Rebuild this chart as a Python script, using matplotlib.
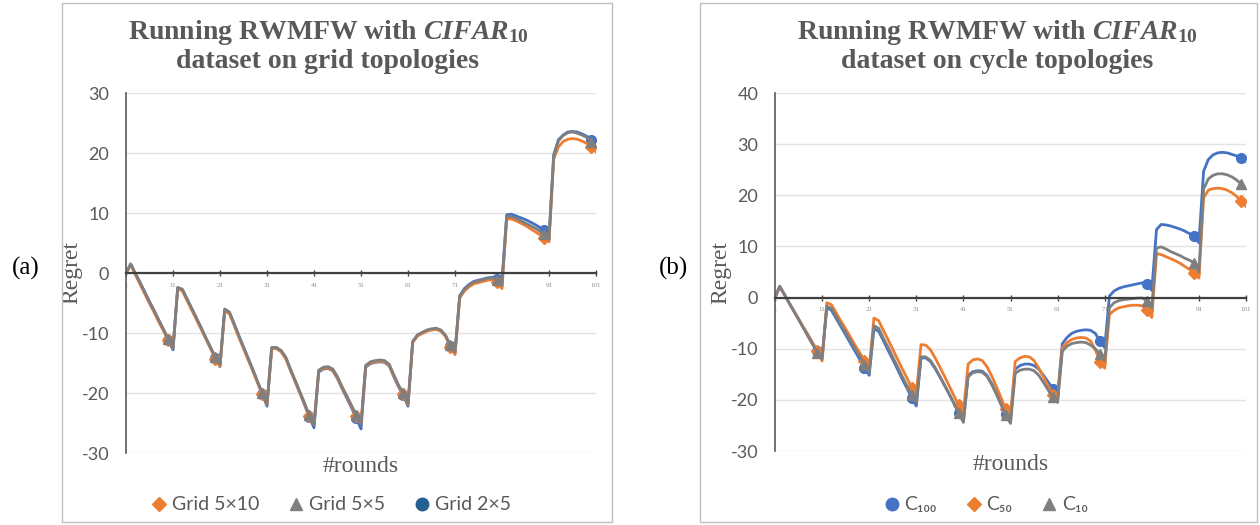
import matplotlib
matplotlib.use("Agg")
import matplotlib.pyplot as plt
from matplotlib.lines import Line2D
from matplotlib.patches import Rectangle

plt.rcParams['mathtext.fontset'] = 'custom'
plt.rcParams['mathtext.rm'] = 'Liberation Serif:bold'
plt.rcParams['mathtext.it'] = 'Liberation Serif:italic:bold'
plt.rcParams['axes.unicode_minus'] = False

rounds = list(range(1, 102))
x_ticks = list(range(1, 102, 10))

# (a) grid topologies
grid_5x10 = [0, 1.4, -0.3, -1.9, -3.5, -5.1, -6.6, -8.2, -9.7, -11.2, -12.4,
             -2.6, -3.0, -4.6, -6.2, -7.8, -9.4, -11.0, -12.6, -14.3, -15.5,
             -6.3, -6.8, -8.7, -10.7, -12.6, -14.5, -16.4, -18.3, -20.2, -21.9,
             -12.6, -12.6, -13.1, -14.3, -16.2, -18.1, -20.0, -21.9, -23.9, -25.2,
             -16.3, -15.9, -15.8, -16.2, -17.5, -19.2, -20.7, -22.3, -23.9, -25.0,
             -15.5, -15.0, -14.8, -14.7, -14.8, -15.4, -17.2, -18.9, -20.2, -21.9,
             -11.6, -10.5, -10.1, -9.7, -9.5, -9.4, -9.7, -10.6, -12.3, -13.6,
             -4.2, -3.0, -2.3, -1.8, -1.6, -1.4, -1.2, -1.1, -1.5, -2.6,
             9.0, 9.0, 8.7, 8.3, 7.9, 7.4, 6.9, 6.4, 5.8, 5.2,
             19.0, 21.0, 21.9, 22.3, 22.4, 22.3, 22.0, 21.6, 21.0, 20.2]
grid_5x5 = [0, 1.5, -0.1, -1.6, -3.2, -4.8, -6.3, -7.9, -9.4, -11.0, -12.6,
            -2.4, -2.7, -4.3, -5.9, -7.5, -9.1, -10.8, -12.4, -14.0, -15.2,
            -6.0, -6.5, -8.4, -10.4, -12.3, -14.2, -16.1, -18.1, -20.0, -21.8,
            -12.4, -12.4, -12.9, -14.0, -16.0, -17.9, -19.8, -21.7, -23.7, -25.4,
            -16.2, -15.7, -15.6, -16.0, -17.3, -19.0, -20.5, -22.1, -23.7, -25.2,
            -15.4, -14.8, -14.6, -14.5, -14.6, -15.2, -17.0, -18.7, -20.0, -21.7,
            -11.4, -10.3, -9.9, -9.5, -9.3, -9.2, -9.5, -10.4, -12.0, -13.2,
            -3.9, -2.7, -2.0, -1.5, -1.3, -1.1, -0.9, -0.8, -1.1, -1.6,
            9.4, 9.4, 9.1, 8.7, 8.3, 7.9, 7.5, 7.0, 6.5, 5.6,
            19.5, 22.0, 22.9, 23.4, 23.5, 23.3, 23.0, 22.6, 21.9, 21.0]
grid_2x5 = [0, 1.5, -0.1, -1.6, -3.2, -4.8, -6.3, -7.9, -9.5, -11.1, -12.8,
            -2.5, -2.8, -4.4, -6.0, -7.6, -9.2, -10.9, -12.5, -14.1, -15.6,
            -6.1, -6.6, -8.5, -10.5, -12.4, -14.3, -16.2, -18.2, -20.2, -22.2,
            -12.6, -12.6, -13.1, -14.2, -16.2, -18.1, -20.0, -22.0, -24.0, -25.8,
            -16.5, -16.0, -15.9, -16.3, -17.6, -19.3, -20.9, -22.5, -24.2, -26.0,
            -15.7, -15.1, -14.9, -14.8, -14.9, -15.5, -17.3, -19.0, -20.4, -22.2,
            -11.5, -10.4, -10.0, -9.6, -9.4, -9.3, -9.6, -10.5, -12.2, -13.4,
            -3.8, -2.6, -1.9, -1.4, -1.2, -1.0, -0.8, -0.7, -1.0, -1.3,
            9.7, 9.8, 9.5, 9.2, 8.9, 8.5, 8.1, 7.6, 7.1, 6.0,
            19.7, 22.2, 23.0, 23.5, 23.6, 23.5, 23.2, 22.8, 22.2, 21.6]

# (b) cycle topologies
c100 = [0, 2.2, 0.6, -1.0, -2.6, -4.2, -5.8, -7.3, -8.9, -10.4, -11.5,
        -2.0, -2.5, -4.1, -5.7, -7.3, -8.9, -10.5, -12.1, -13.7, -15.2,
        -6.1, -6.6, -8.4, -10.3, -12.1, -14.0, -15.9, -17.7, -19.6, -21.2,
        -11.8, -11.8, -12.5, -13.9, -15.5, -17.2, -18.9, -20.7, -22.6, -24.2,
        -15.2, -14.5, -14.3, -14.4, -15.2, -16.8, -18.6, -20.6, -22.7, -24.0,
        -14.0, -13.3, -13.0, -13.0, -13.3, -14.0, -15.2, -16.5, -17.8, -19.0,
        -9.0, -7.8, -7.0, -6.6, -6.4, -6.3, -6.4, -7.0, -8.5, -9.8,
        0.3, 1.3, 1.8, 2.1, 2.3, 2.5, 2.7, 2.9, 2.6, 1.4,
        13.3, 14.3, 14.2, 14.0, 13.7, 13.4, 13.0, 12.5, 12.0, 10.7,
        24.7, 27.0, 27.9, 28.3, 28.4, 28.3, 28.0, 27.7, 27.3, 26.6]
c50 = [0, 2.1, 0.6, -1.0, -2.6, -4.2, -5.8, -7.3, -8.9, -10.5, -12.4,
       -1.0, -1.4, -3.0, -4.6, -6.1, -7.7, -9.3, -10.8, -12.4, -14.0,
       -4.0, -4.5, -6.4, -8.2, -10.1, -12.0, -13.9, -15.7, -17.6, -18.8,
       -9.2, -9.3, -10.2, -11.8, -13.6, -15.4, -17.3, -19.2, -21.1, -22.5,
       -13.0, -12.2, -12.0, -12.3, -13.5, -15.3, -17.4, -19.6, -21.8, -23.0,
       -12.5, -11.8, -11.5, -11.6, -12.3, -13.8, -15.5, -17.3, -19.0, -20.0,
       -9.8, -8.8, -8.2, -7.9, -7.8, -7.9, -8.5, -10.2, -12.5, -13.8,
       -3.3, -2.5, -2.0, -1.8, -1.6, -1.5, -1.5, -1.6, -2.5, -3.9,
       8.6, 8.4, 8.0, 7.6, 7.2, 6.7, 6.1, 5.5, 4.8, 3.8,
       19.5, 21.0, 21.3, 21.4, 21.3, 21.0, 20.5, 19.8, 18.8, 17.8]
c10 = [0, 2.2, 0.6, -1.1, -2.7, -4.3, -5.9, -7.6, -9.2, -10.8, -12.0,
       -1.7, -2.1, -3.7, -5.3, -6.8, -8.4, -10.0, -11.5, -13.1, -14.6,
       -5.5, -6.0, -7.9, -9.7, -11.6, -13.5, -15.4, -17.2, -19.1, -20.5,
       -11.6, -11.6, -12.3, -13.7, -15.4, -17.1, -18.9, -20.7, -22.5, -24.4,
       -15.5, -14.7, -14.5, -14.6, -15.4, -17.0, -18.9, -21.0, -23.0, -24.6,
       -14.8, -14.2, -14.0, -14.0, -14.3, -15.2, -16.6, -18.1, -19.5, -20.5,
       -10.5, -9.5, -9.0, -8.8, -8.7, -8.8, -9.3, -10.0, -11.0, -12.3,
       -2.0, -1.0, -0.6, -0.4, -0.3, -0.2, -0.1, -0.1, -0.7, -2.0,
       9.7, 9.9, 9.5, 9.0, 8.6, 8.2, 7.7, 7.3, 6.8, 5.0,
       21.2, 23.2, 23.9, 24.2, 24.2, 24.0, 23.6, 23.0, 22.2, 21.4]

ORANGE = '#ED7D31'
GRAY = '#7F7F7F'
BLUE = '#4472C4'
TEXT = '#595959'
SERIF = 'Liberation Serif'
SANS = ['Lato', 'DejaVu Sans']
MARKS = list(range(9, 101, 10))


def style_axes(ax, ymin, ymax, width_px, height_px):
    ax.set_xlim(1, 101)
    ax.set_ylim(ymin, ymax)
    ax.set_yticks(range(ymin, ymax + 1, 10))
    ax.set_xticks(x_ticks)
    ax.grid(axis='y', color='#e3e3e3', lw=1)
    ax.set_axisbelow(True)
    for s in ['top', 'right']:
        ax.spines[s].set_visible(False)
    ax.spines['bottom'].set_position(('data', 0))
    ax.spines['bottom'].set_color('#404040')
    ax.spines['bottom'].set_linewidth(1.6)
    ax.spines['left'].set_color('#595959')
    ax.spines['left'].set_linewidth(1.2)
    ax.tick_params(axis='x', direction='inout', length=4, width=1, color='#404040',
                   pad=5, labelsize=5, labelcolor='#8c8c8c')
    ax.tick_params(axis='y', length=0, labelsize=13, labelcolor=TEXT, pad=12)
    ax.set_xticklabels([str(t) for t in x_ticks], family=SERIF)
    for lab in ax.get_yticklabels():
        lab.set_family(SANS)
    ax.set_ylabel('Regret', family=SERIF, fontsize=17, color=TEXT)
    ax.yaxis.set_label_coords(-44 / width_px, 0.5)
    ax.text(0.5, -14 / height_px, '#rounds', transform=ax.transAxes, ha='center',
            va='center', family=SERIF, fontsize=17, color=TEXT)


def draw(ax, y, color, marker, ms):
    ax.plot(rounds, y, color=color, lw=2.0, marker=marker, markevery=MARKS,
            ms=ms, mec=color, mfc=color, solid_joinstyle='round')


fig = plt.figure(figsize=(12.6, 5.25), dpi=100)

# boxes around the two charts
fig.patches.append(Rectangle((62 / 1260, 3 / 525), 550 / 1260, 519 / 525,
                             transform=fig.transFigure, fill=False,
                             ec='#bfbfbf', lw=1.0))
fig.patches.append(Rectangle((700 / 1260, 3 / 525), 557 / 1260, 519 / 525,
                             transform=fig.transFigure, fill=False,
                             ec='#bfbfbf', lw=1.0))

ax1 = fig.add_axes([126 / 1260, 1 - 453 / 525, 470 / 1260, 360 / 525])
draw(ax1, grid_2x5, BLUE, 'o', 7)
draw(ax1, grid_5x10, ORANGE, 'D', 6)
draw(ax1, grid_5x5, GRAY, '^', 7.5)
style_axes(ax1, -30, 30, 470, 360)

ax2 = fig.add_axes([775 / 1260, 1 - 451 / 525, 471 / 1260, 358 / 525])
draw(ax2, c100, BLUE, 'o', 7)
draw(ax2, c50, ORANGE, 'D', 6)
draw(ax2, c10, GRAY, '^', 7.5)
style_axes(ax2, -30, 40, 471, 358)

title_kw = dict(ha='center', va='center', family=SERIF, fontweight='bold',
                fontsize=20, color=TEXT, linespacing=1.15)
fig.text(328 / 1260, 1 - 46 / 525,
         'Running RWMFW with $\\mathit{CIFAR}_{\\mathit{10}}$\ndataset on grid topologies',
         **title_kw)
fig.text(997 / 1260, 1 - 46 / 525,
         'Running RWMFW with $\\mathit{CIFAR}_{\\mathit{10}}$\ndataset on cycle topologies',
         **title_kw)

fig.text(26 / 1260, 1 - 268 / 525, '(a)', ha='center', va='center',
         family=SERIF, fontsize=18, color='black')
fig.text(673 / 1260, 1 - 268 / 525, '(b)', ha='center', va='center',
         family=SERIF, fontsize=18, color='black')


def handle(color, marker, ms):
    return Line2D([], [], ls='none', marker=marker, ms=ms, mfc=color, mec=color)


leg_kw = dict(loc='center', frameon=False, ncol=3, handletextpad=0.15,
              columnspacing=1.4, handlelength=1.0, labelcolor=TEXT,
              prop={'family': SANS, 'size': 14})
fig.legend([handle(ORANGE, 'D', 7), handle(GRAY, '^', 8), handle('#255E91', 'o', 9)],
           ['Grid 5×10', 'Grid 5×5', 'Grid 2×5'],
           bbox_to_anchor=(330 / 1260, 1 - 505 / 525), **leg_kw)
fig.legend([handle(BLUE, 'o', 9), handle(ORANGE, 'D', 7), handle(GRAY, '^', 8)],
           ['C₁₀₀', 'C₅₀', 'C₁₀'],
           bbox_to_anchor=(985 / 1260, 1 - 505 / 525), **leg_kw)

fig.savefig('out.png', dpi=100)
